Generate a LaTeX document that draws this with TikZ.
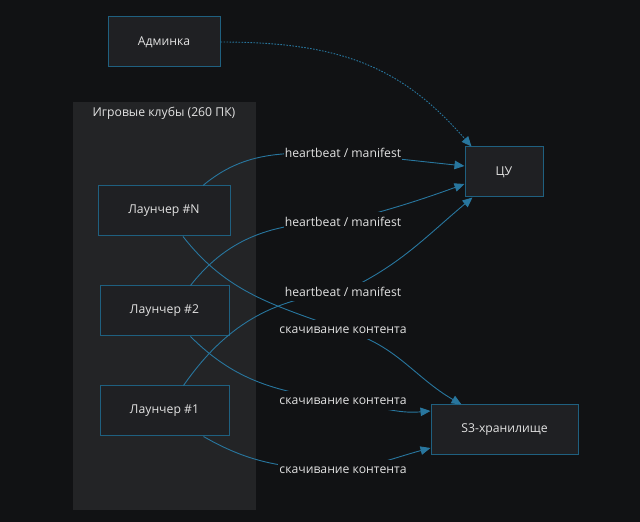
\documentclass[tikz,border=0pt]{standalone}
\usepackage{fontspec}
\setmainfont{Open Sans}
\usetikzlibrary{arrows.meta, positioning, calc}

\definecolor{bgcol}{RGB}{17,18,20}
\definecolor{clustcol}{RGB}{35,36,38}
\definecolor{nodecol}{RGB}{31,32,35}
\definecolor{bordcol}{RGB}{31,96,128}
\definecolor{edgecol}{RGB}{40,118,158}
\definecolor{txtcol}{RGB}{226,226,226}

\begin{document}
\begin{tikzpicture}[
  x=1pt, y=1pt,
  font=\fontsize{12.2}{14}\selectfont, text=txtcol,
  box/.style={draw=bordcol,fill=nodecol,line width=1pt,inner sep=0pt},
  lbl/.style={fill=bgcol,inner sep=1pt,minimum height=19pt},
  link/.style={draw=edgecol,line width=0.9pt,-{Triangle[length=10pt,width=8.5pt]}},
  dotlink/.style={link,dash pattern=on 1.6pt off 1.4pt}
]
  \fill[bgcol] (0,0) rectangle (640,522);
  \useasboundingbox (0,0) rectangle (640,522);

  % cluster
  \fill[clustcol] (73,12) rectangle (256,420);
  \node (clust) at (164,408.5) {Игровые клубы (260 ПК)};

  % nodes
  \node[box,minimum width=112pt,minimum height=50pt] (adm) at (164,480) {Админка};
  \node[box,minimum width=78pt,minimum height=50pt] (cu) at (504,350) {ЦУ};
  \node[box,minimum width=132pt,minimum height=50pt] (lN) at (164,311) {Лаунчер \#N};
  \node[box,minimum width=129pt,minimum height=50pt] (l2) at (164.5,211) {Лаунчер \#2};
  \node[box,minimum width=129pt,minimum height=50pt] (l1) at (164.5,111) {Лаунчер \#1};
  \node[box,minimum width=147pt,minimum height=50pt] (s3) at (504.5,92) {S3-хранилище};

  % label spots
  \coordinate (hbN) at (343,369);
  \coordinate (hb2) at (343,300);
  \coordinate (hb1) at (343,230);
  \coordinate (dlN) at (343,192);
  \coordinate (dl2) at (343,121);
  \coordinate (dl1) at (343,52);

  % edges
  \draw[dotlink] (adm.east) .. controls +(120,0) and +(-70,80) .. ($(cu.north west)+(7,0)$);
  \draw[link] ($(lN.north)+(39,0)$) to[out=40,in=180] (hbN) -- ($(cu.west)+(0,6)$);
  \draw[link] ($(l2.north)+(26,0)$) to[out=52,in=180] (hb2) to[out=15,in=200] ($(cu.west)+(0,-12)$);
  \draw[link] ($(l1.north)+(19,0)$) to[out=55,in=185] (hb1) to[out=25,in=220] ($(cu.south west)+(8,0)$);
  \draw[link] ($(lN.south)+(19,0)$) to[out=-52,in=160] (dlN) to[out=-15,in=150] ($(s3.north west)+(31,0)$);
  \draw[link] ($(l2.south)+(26,0)$) to[out=-45,in=172] (dl2) to[out=-8,in=185] ($(s3.west)+(0,19)$);
  \draw[link] ($(l1.south)+(39,0)$) to[out=-30,in=178] (dl1) to[out=8,in=195] ($(s3.west)+(0,-18)$);

  % labels
  \node[lbl] (hbNl) at (hbN) {heartbeat / manifest};
  \node[lbl] (hb2l) at (hb2) {heartbeat / manifest};
  \node[lbl] (hb1l) at (hb1) {heartbeat / manifest};
  \node[lbl] (dlNl) at (dlN) {скачивание контента};
  \node[lbl] (dl2l) at (dl2) {скачивание контента};
  \node[lbl] (dl1l) at (dl1) {скачивание контента};
\end{tikzpicture}
\end{document}
